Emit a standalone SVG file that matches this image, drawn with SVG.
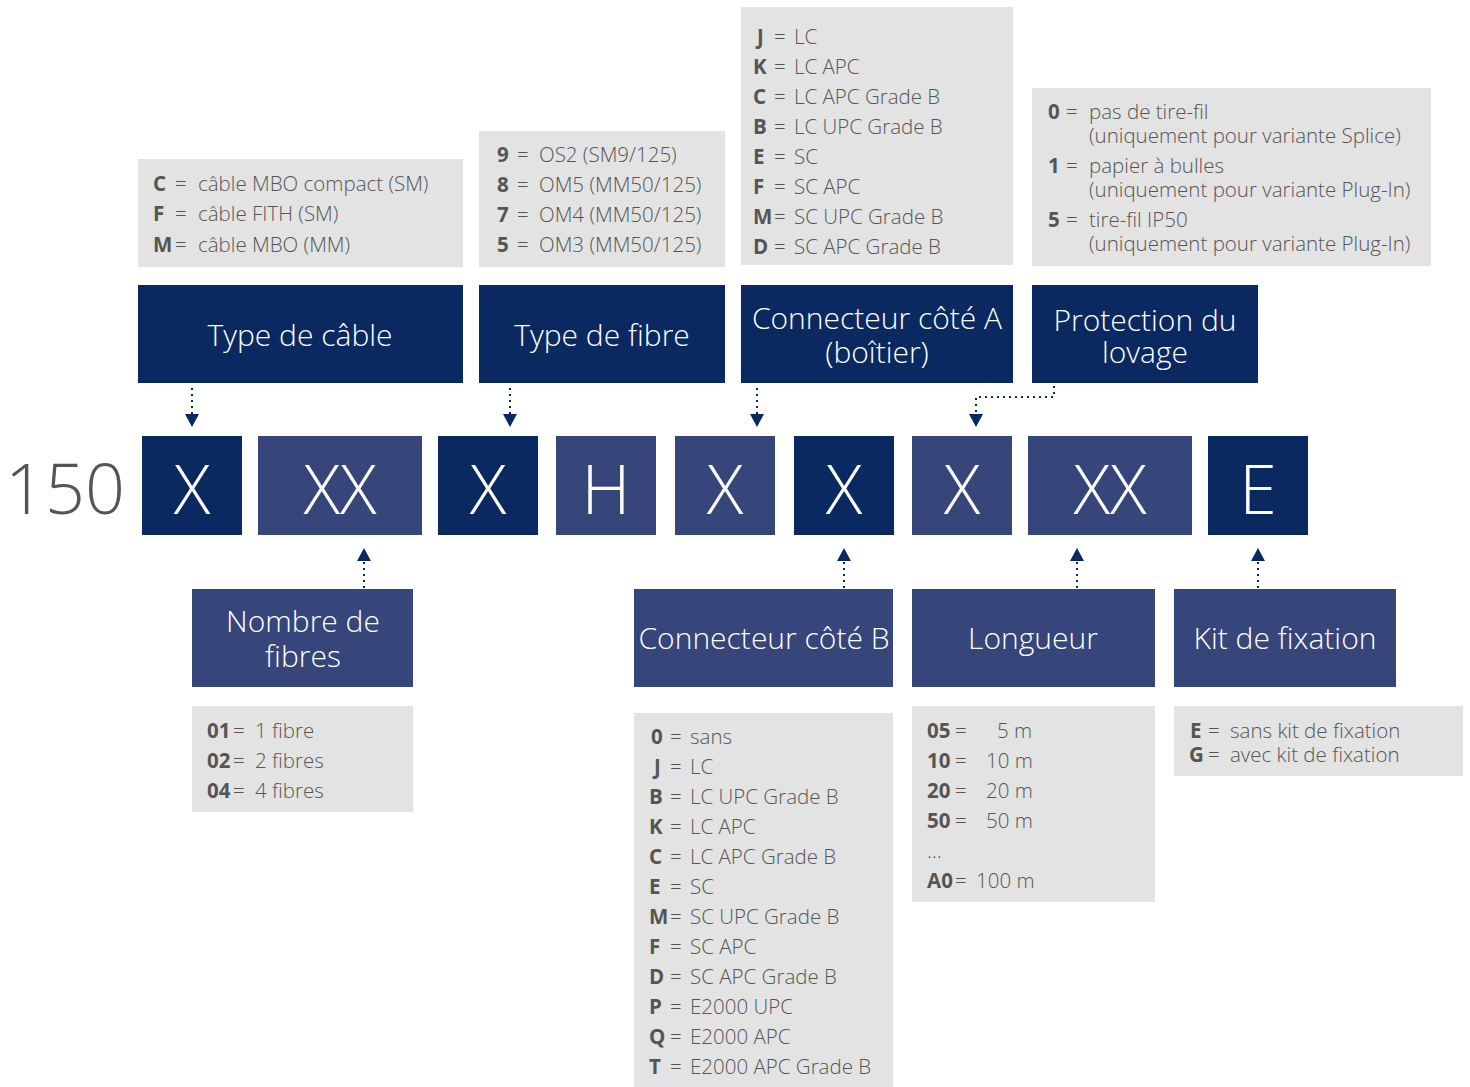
<svg xmlns="http://www.w3.org/2000/svg" width="1470" height="1087" viewBox="0 0 1470 1087">
<defs>
<style>
.dk{fill:#0a2961}
.lt{fill:#36457a}
.gr{fill:#e3e3e3}
.h{font-family:"Open Sans","Noto Sans","Liberation Sans",sans-serif;font-size:30px;fill:#ffffff;text-anchor:middle;font-weight:300}
.c{font-family:"Open Sans","Noto Sans","Liberation Sans",sans-serif;font-size:68px;fill:#ffffff;text-anchor:middle;font-weight:300}
.t{font-family:"Open Sans","Noto Sans","Liberation Sans",sans-serif;font-size:20.5px;fill:#555555;font-weight:300}
.b{font-weight:700}
.ln{stroke:#0a2961;stroke-width:2;stroke-dasharray:2 4;fill:none}
.ar{fill:#0a2961}
</style>
</defs>
<rect width="1470" height="1087" fill="#ffffff"/>

<g id="n-typecable">
<rect class="gr" x="138" y="159" width="325" height="108"/>
<text class="t" x="153" y="191"><tspan class="b">C</tspan><tspan x="175">=</tspan><tspan x="198">câble MBO compact (SM)</tspan></text>
<text class="t" x="153" y="221"><tspan class="b">F</tspan><tspan x="175">=</tspan><tspan x="198">câble FITH (SM)</tspan></text>
<text class="t" x="153" y="252"><tspan class="b">M</tspan><tspan x="175">=</tspan><tspan x="198">câble MBO (MM)</tspan></text>
<rect class="dk" x="138" y="285" width="325" height="98"/>
<text class="h" x="300" y="346">Type de câble</text>
</g>

<g id="n-typefibre">
<rect class="gr" x="479" y="131" width="246" height="136"/>
<text class="t" x="497" y="162"><tspan class="b">9</tspan><tspan x="517">=</tspan><tspan x="539">OS2 (SM9/125)</tspan></text>
<text class="t" x="497" y="192"><tspan class="b">8</tspan><tspan x="517">=</tspan><tspan x="539">OM5 (MM50/125)</tspan></text>
<text class="t" x="497" y="222"><tspan class="b">7</tspan><tspan x="517">=</tspan><tspan x="539">OM4 (MM50/125)</tspan></text>
<text class="t" x="497" y="252"><tspan class="b">5</tspan><tspan x="517">=</tspan><tspan x="539">OM3 (MM50/125)</tspan></text>
<rect class="dk" x="479" y="285" width="246" height="98"/>
<text class="h" x="602" y="346">Type de fibre</text>
</g>

<g id="n-conna">
<rect class="gr" x="741" y="7" width="272" height="258"/>
<text class="t" x="757" y="44"><tspan class="b">J</tspan><tspan x="774">=</tspan><tspan x="794">LC</tspan></text>
<text class="t" x="753" y="74"><tspan class="b">K</tspan><tspan x="774">=</tspan><tspan x="794">LC APC</tspan></text>
<text class="t" x="753" y="104"><tspan class="b">C</tspan><tspan x="774">=</tspan><tspan x="794">LC APC Grade B</tspan></text>
<text class="t" x="753" y="134"><tspan class="b">B</tspan><tspan x="774">=</tspan><tspan x="794">LC UPC Grade B</tspan></text>
<text class="t" x="753" y="164"><tspan class="b">E</tspan><tspan x="774">=</tspan><tspan x="794">SC</tspan></text>
<text class="t" x="753" y="194"><tspan class="b">F</tspan><tspan x="774">=</tspan><tspan x="794">SC APC</tspan></text>
<text class="t" x="753" y="224"><tspan class="b">M</tspan><tspan x="774">=</tspan><tspan x="794">SC UPC Grade B</tspan></text>
<text class="t" x="753" y="254"><tspan class="b">D</tspan><tspan x="774">=</tspan><tspan x="794">SC APC Grade B</tspan></text>
<rect class="dk" x="741" y="285" width="272" height="98"/>
<text class="h" x="877" y="329">Connecteur côté A<tspan x="877" dy="34">(boîtier)</tspan></text>
</g>

<g id="n-protection">
<rect class="gr" x="1032" y="88" width="399" height="178"/>
<text class="t" x="1048" y="119"><tspan class="b">0</tspan><tspan x="1066">=</tspan><tspan x="1089">pas de tire-fil</tspan></text>
<text class="t" x="1089" y="143">(uniquement pour variante Splice)</text>
<text class="t" x="1048" y="173"><tspan class="b">1</tspan><tspan x="1066">=</tspan><tspan x="1089">papier à bulles</tspan></text>
<text class="t" x="1089" y="197">(uniquement pour variante Plug-In)</text>
<text class="t" x="1048" y="227"><tspan class="b">5</tspan><tspan x="1066">=</tspan><tspan x="1089">tire-fil IP50</tspan></text>
<text class="t" x="1089" y="251">(uniquement pour variante Plug-In)</text>
<rect class="dk" x="1032" y="285" width="226" height="98"/>
<text class="h" x="1145" y="331">Protection du<tspan x="1145" dy="32">lovage</tspan></text>
</g>

<g id="n-code">
<text x="5" y="514" style="font-family:'Open Sans','Noto Sans','Liberation Sans',sans-serif;font-size:70px;fill:#555555;font-weight:300">150</text>
<rect class="dk" x="142" y="436" width="100" height="99"/>
<text class="c" x="192" y="514">X</text>
<rect class="lt" x="258" y="436" width="164" height="99"/>
<text class="c" x="340" y="514">XX</text>
<rect class="dk" x="438" y="436" width="100" height="99"/>
<text class="c" x="488" y="514">X</text>
<rect class="lt" x="556" y="436" width="100" height="99"/>
<text class="c" x="606" y="514">H</text>
<rect class="lt" x="675" y="436" width="100" height="99"/>
<text class="c" x="725" y="514">X</text>
<rect class="dk" x="794" y="436" width="100" height="99"/>
<text class="c" x="844" y="514">X</text>
<rect class="lt" x="912" y="436" width="100" height="99"/>
<text class="c" x="962" y="514">X</text>
<rect class="lt" x="1028" y="436" width="164" height="99"/>
<text class="c" x="1110" y="514">XX</text>
<rect class="dk" x="1208" y="436" width="100" height="99"/>
<text class="c" x="1258" y="514">E</text>
</g>

<g id="n-nombre">
<rect class="lt" x="192" y="589" width="221" height="98"/>
<text class="h" x="303" y="632">Nombre de<tspan x="303" dy="35">fibres</tspan></text>
<rect class="gr" x="192" y="706" width="221" height="106"/>
<text class="t" x="207" y="738"><tspan class="b">01</tspan><tspan x="233">=</tspan><tspan x="255">1 fibre</tspan></text>
<text class="t" x="207" y="768"><tspan class="b">02</tspan><tspan x="233">=</tspan><tspan x="255">2 fibres</tspan></text>
<text class="t" x="207" y="798"><tspan class="b">04</tspan><tspan x="233">=</tspan><tspan x="255">4 fibres</tspan></text>
</g>

<g id="n-connb">
<rect class="lt" x="634" y="589" width="259" height="98"/>
<text class="h" x="764" y="649">Connecteur côté B</text>
<rect class="gr" x="634" y="713" width="259" height="374"/>
<text class="t" x="651" y="744"><tspan class="b">0</tspan><tspan x="670">=</tspan><tspan x="690">sans</tspan></text>
<text class="t" x="654" y="774"><tspan class="b">J</tspan><tspan x="670">=</tspan><tspan x="690">LC</tspan></text>
<text class="t" x="649" y="804"><tspan class="b">B</tspan><tspan x="670">=</tspan><tspan x="690">LC UPC Grade B</tspan></text>
<text class="t" x="649" y="834"><tspan class="b">K</tspan><tspan x="670">=</tspan><tspan x="690">LC APC</tspan></text>
<text class="t" x="649" y="864"><tspan class="b">C</tspan><tspan x="670">=</tspan><tspan x="690">LC APC Grade B</tspan></text>
<text class="t" x="649" y="894"><tspan class="b">E</tspan><tspan x="670">=</tspan><tspan x="690">SC</tspan></text>
<text class="t" x="649" y="924"><tspan class="b">M</tspan><tspan x="670">=</tspan><tspan x="690">SC UPC Grade B</tspan></text>
<text class="t" x="649" y="954"><tspan class="b">F</tspan><tspan x="670">=</tspan><tspan x="690">SC APC</tspan></text>
<text class="t" x="649" y="984"><tspan class="b">D</tspan><tspan x="670">=</tspan><tspan x="690">SC APC Grade B</tspan></text>
<text class="t" x="649" y="1014"><tspan class="b">P</tspan><tspan x="670">=</tspan><tspan x="690">E2000 UPC</tspan></text>
<text class="t" x="649" y="1044"><tspan class="b">Q</tspan><tspan x="670">=</tspan><tspan x="690">E2000 APC</tspan></text>
<text class="t" x="649" y="1074"><tspan class="b">T</tspan><tspan x="670">=</tspan><tspan x="690">E2000 APC Grade B</tspan></text>
</g>

<g id="n-longueur">
<rect class="lt" x="912" y="589" width="243" height="98"/>
<text class="h" x="1033" y="649">Longueur</text>
<rect class="gr" x="912" y="706" width="243" height="196"/>
<text class="t" x="927" y="738"><tspan class="b">05</tspan><tspan x="955">=</tspan><tspan x="997">5 m</tspan></text>
<text class="t" x="927" y="768"><tspan class="b">10</tspan><tspan x="955">=</tspan><tspan x="986">10 m</tspan></text>
<text class="t" x="927" y="798"><tspan class="b">20</tspan><tspan x="955">=</tspan><tspan x="986">20 m</tspan></text>
<text class="t" x="927" y="828"><tspan class="b">50</tspan><tspan x="955">=</tspan><tspan x="986">50 m</tspan></text>
<text class="t" x="927" y="858">…</text>
<text class="t" x="927" y="888"><tspan class="b">A0</tspan><tspan x="955">=</tspan><tspan x="976">100 m</tspan></text>
</g>

<g id="n-kit">
<rect class="lt" x="1174" y="589" width="222" height="98"/>
<text class="h" x="1285" y="649">Kit de fixation</text>
<rect class="gr" x="1174" y="706" width="289" height="70"/>
<text class="t" x="1190" y="738"><tspan class="b">E</tspan><tspan x="1208">=</tspan><tspan x="1230">sans kit de fixation</tspan></text>
<text class="t" x="1189" y="762"><tspan class="b">G</tspan><tspan x="1208">=</tspan><tspan x="1230">avec kit de fixation</tspan></text>
</g>

<g id="connectors">
<path class="ln" d="M192,388 V414"/>
<path class="ar" d="M185,414 L199,414 L192,427 z"/>
<path class="ln" d="M510,388 V414"/>
<path class="ar" d="M503,414 L517,414 L510,427 z"/>
<path class="ln" d="M757,388 V414"/>
<path class="ar" d="M750,414 L764,414 L757,427 z"/>
<path class="ln" d="M1054,386 V397 H976 V414"/>
<path class="ar" d="M969,414 L983,414 L976,427 z"/>
<path class="ln" d="M364,562 V588"/>
<path class="ar" d="M357,561 L371,561 L364,548 z"/>
<path class="ln" d="M844,562 V588"/>
<path class="ar" d="M837,561 L851,561 L844,548 z"/>
<path class="ln" d="M1077,562 V588"/>
<path class="ar" d="M1070,561 L1084,561 L1077,548 z"/>
<path class="ln" d="M1258,562 V588"/>
<path class="ar" d="M1251,561 L1265,561 L1258,548 z"/>
</g>
</svg>
